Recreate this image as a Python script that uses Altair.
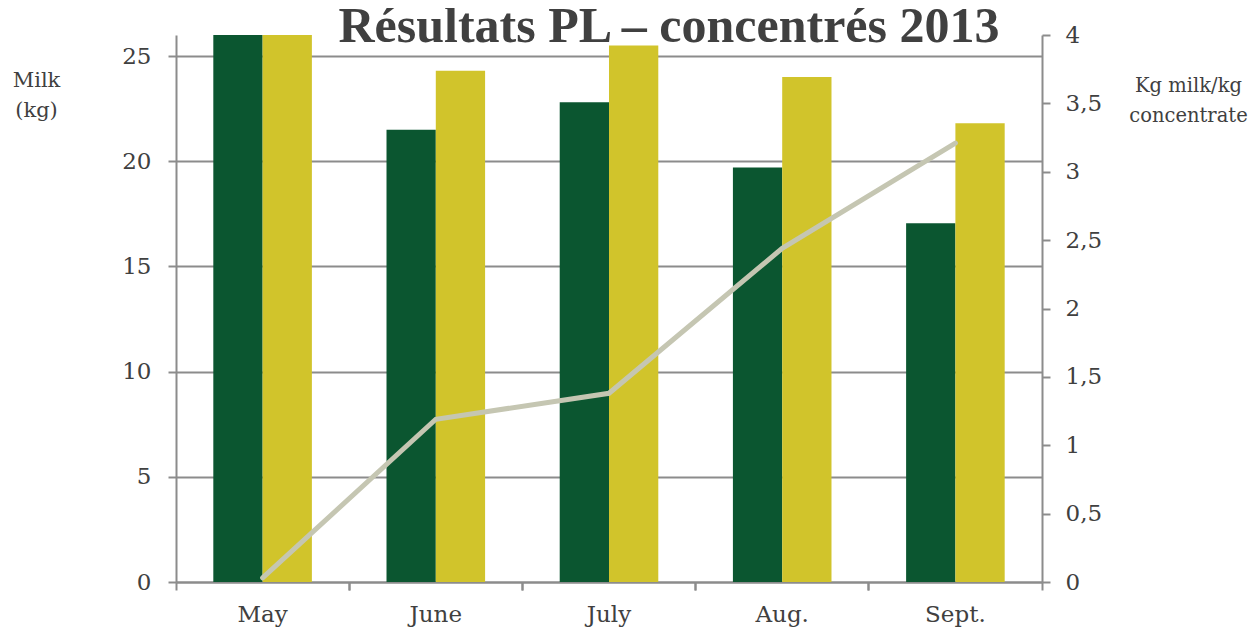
import altair as alt
import pandas as pd

months = ["May", "June", "July", "Aug.", "Sept."]
series_names = ["Milk A", "Milk B"]
milk_green = [26.0, 21.5, 22.8, 19.7, 17.05]
milk_yellow = [26.0, 24.3, 25.5, 24.0, 21.8]
ratio = [0.03, 1.19, 1.38, 2.44, 3.21]
left_ticks = [0, 5, 10, 15, 20, 25]
right_ticks = [0, 0.5, 1, 1.5, 2, 2.5, 3, 3.5, 4]
title_text = ["Résultats PL – concentrés 2013"]

bars_df = pd.DataFrame({
    "month": months * 2,
    "series": [series_names[0]] * 5 + [series_names[1]] * 5,
    "milk": milk_green + milk_yellow,
})
line_df = pd.DataFrame({"month": months, "ratio": ratio})
title_df = pd.DataFrame({"t": title_text})

FONT = "DejaVu Serif"
TFONT = "Liberation Serif"
GREY = "#8c8c8c"
TEXT = "#404040"

x_main = alt.X(
    "month:N", sort=months, title=None,
    scale=alt.Scale(paddingInner=0, paddingOuter=0),
    axis=alt.Axis(bandPosition=0, labelAngle=0, labelPadding=13,
                  domain=True, ticks=True, grid=False),
)

bars = alt.Chart(bars_df).mark_bar(clip=True).encode(
    x=x_main,
    xOffset=alt.XOffset("series:N", sort=series_names,
                        scale=alt.Scale(paddingOuter=0.757, paddingInner=0)),
    y=alt.Y("milk:Q", title=["Milk", "(kg)"],
            scale=alt.Scale(domain=[0, 26], nice=False),
            axis=alt.Axis(values=left_ticks, grid=True, orient="left",
                          titleAngle=0, titleX=-140, titleY=34, titleAlign="center",
                          titleBaseline="top", titleFontSize=21, titleLineHeight=30,
                          titleFont=FONT, titleFontWeight="normal", titleColor=TEXT,
                          labelPadding=17)),
    color=alt.Color("series:N", sort=series_names, legend=None,
                    scale=alt.Scale(domain=series_names, range=["#0b5630", "#d1c42b"])),
)

line = alt.Chart(line_df).mark_line(color="#c5c6b2", strokeWidth=5, strokeCap="round").encode(
    x=alt.X("month:N", sort=months, title=None,
            axis=alt.Axis(orient="bottom", bandPosition=1, labels=False, domain=False,
                          ticks=True, grid=False)),
    y=alt.Y("ratio:Q", title=["Kg milk/kg", "concentrate"],
            scale=alt.Scale(domain=[0, 4], nice=False),
            axis=alt.Axis(values=right_ticks, grid=False, orient="right",
                          labelExpr="replace(format(datum.value, '.1~f'), '.', ',')",
                          titleAngle=0, titleX=146, titleY=41, titleAlign="center",
                          titleBaseline="top", titleFontSize=19.5, titleLineHeight=30,
                          titleFont=FONT, titleFontWeight="normal", titleColor=TEXT,
                          labelPadding=15)),
)

title = alt.Chart(title_df).mark_text(
    font=TFONT, fontSize=50, fontWeight="bold", color=TEXT,
    align="center", baseline="alphabetic",
).encode(text="t:N", x=alt.value(493), y=alt.value(7))

chart = alt.layer(bars, line, title).resolve_scale(y="independent").resolve_axis(x="independent").properties(
    width=866, height=547,
    autosize=alt.AutoSizeParams(type="none"),
    padding={"left": 168, "top": 27, "right": 206, "bottom": 45},
).configure_view(stroke=None).configure_axis(
    domainColor=GREY, domainWidth=2, tickColor=GREY, tickWidth=2, tickSize=8,
    gridColor=GREY, gridWidth=2, labelColor=TEXT, labelFont=FONT, labelFontSize=23,
)

chart.save("out.html", embed_options={"renderer": "svg", "actions": False})
